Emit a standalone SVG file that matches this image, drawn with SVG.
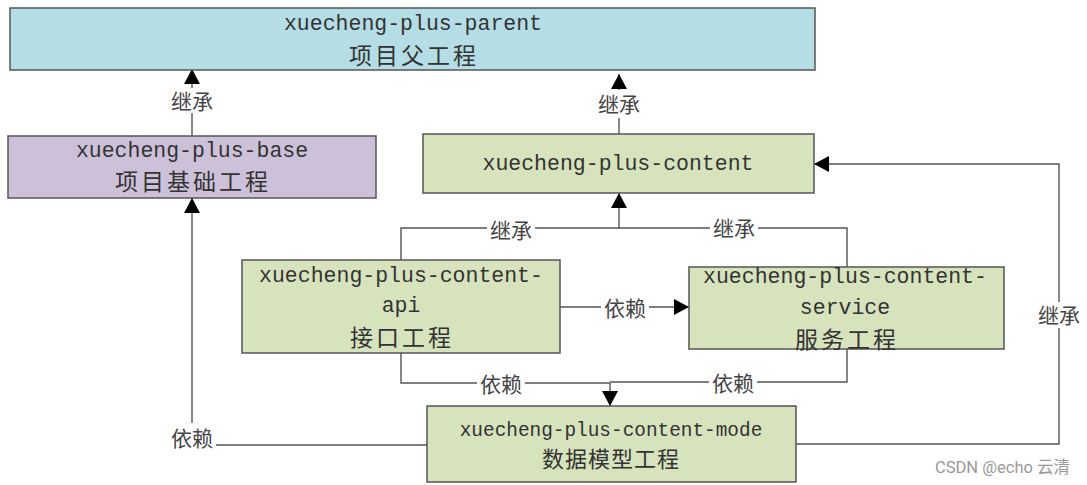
<svg xmlns="http://www.w3.org/2000/svg" width="1087" height="485" viewBox="0 0 1087 485">
<style>
.box{stroke:#555;stroke-width:1.5}
.blue{fill:#b5dde6}
.purple{fill:#cdc1da}
.green{fill:#d7e3bd}
.lat{font-family:"Liberation Mono","DejaVu Sans Mono",monospace;font-size:21.5px;fill:#333;text-anchor:middle;dominant-baseline:central}
.lat2{font-family:"Liberation Mono","DejaVu Sans Mono",monospace;font-size:19.4px;fill:#333;text-anchor:middle;dominant-baseline:central}
.cn{font-family:"Noto Sans CJK SC",sans-serif;font-size:23px;letter-spacing:3px;fill:#333;text-anchor:middle;dominant-baseline:central}
.cn2{font-family:"Noto Sans CJK SC",sans-serif;font-size:22px;letter-spacing:1px;fill:#333;text-anchor:middle;dominant-baseline:central}
.conn{fill:none;stroke:#555;stroke-width:1.4}
.lbl{font-family:"Noto Sans CJK SC",sans-serif;font-size:21px;fill:#444;text-anchor:middle;dominant-baseline:central}
.bg{fill:#fff}
.wm{font-family:"Roboto","Noto Sans","Noto Sans CJK SC",sans-serif;font-size:16.5px;fill:#999}
</style>
<defs>
<marker id="arr" markerUnits="userSpaceOnUse" markerWidth="16" markerHeight="16" refX="15" refY="8" orient="auto">
<path d="M0,0 L15,8 L0,16 z" fill="#000"/>
</marker>
</defs>
<rect width="1087" height="485" fill="#fff"/>
<g id="connectors">
<path class="conn" d="M192,136 V69" marker-end="url(#arr)"/>
<path class="conn" d="M619,134 V74" marker-end="url(#arr)"/>
<path class="conn" d="M401,260 V228 H619 V193" marker-end="url(#arr)"/>
<path class="conn" d="M847,267 V228 H619"/>
<path class="conn" d="M560,307 H689" marker-end="url(#arr)"/>
<path class="conn" d="M401,353 V383 H610 V406" marker-end="url(#arr)"/>
<path class="conn" d="M847,349 V382 H610"/>
<path class="conn" d="M427,445 H192 V198" marker-end="url(#arr)"/>
<path class="conn" d="M796,444 H1059 V164 H814" marker-end="url(#arr)"/>
<g><rect class="bg" x="168" y="88" width="48" height="25"/><text class="lbl" x="192" y="100">继承</text></g>
<g><rect class="bg" x="595" y="90" width="48" height="28"/><text class="lbl" x="619" y="103">继承</text></g>
<g><rect class="bg" x="487" y="218" width="48" height="22"/><text class="lbl" x="511" y="229">继承</text></g>
<g><rect class="bg" x="710" y="216" width="48" height="22"/><text class="lbl" x="734" y="227">继承</text></g>
<g><rect class="bg" x="601" y="296" width="48" height="22"/><text class="lbl" x="625" y="307">依赖</text></g>
<g><rect class="bg" x="477" y="372" width="48" height="22"/><text class="lbl" x="501" y="383">依赖</text></g>
<g><rect class="bg" x="709" y="371" width="48" height="22"/><text class="lbl" x="733" y="382">依赖</text></g>
<g><rect class="bg" x="168" y="423" width="48" height="28"/><text class="lbl" x="192" y="437">依赖</text></g>
<g><rect class="bg" x="1035" y="302" width="48" height="26"/><text class="lbl" x="1059" y="314">继承</text></g>
</g>
<g id="parent">
<rect class="box blue" x="10" y="8" width="805" height="62"/>
<text class="lat" x="413" y="24">xuecheng-plus-parent</text>
<text class="cn" x="414" y="54">项目父工程</text>
</g>
<g id="base">
<rect class="box purple" x="8" y="136" width="368" height="62"/>
<text class="lat" x="192" y="151">xuecheng-plus-base</text>
<text class="cn" x="193" y="180">项目基础工程</text>
</g>
<g id="content">
<rect class="box green" x="423" y="134" width="391" height="59"/>
<text class="lat" x="618" y="164">xuecheng-plus-content</text>
</g>
<g id="api">
<rect class="box green" x="242" y="260" width="318" height="93"/>
<text class="lat" x="401" y="276">xuecheng-plus-content-</text>
<text class="lat" x="401" y="306">api</text>
<text class="cn" x="402" y="336">接口工程</text>
</g>
<g id="service">
<rect class="box green" x="689" y="267" width="315" height="82"/>
<text class="lat" x="845" y="277">xuecheng-plus-content-</text>
<text class="lat" x="845" y="308">service</text>
<text class="cn" x="847" y="338">服务工程</text>
</g>
<g id="mode">
<rect class="box green" x="427" y="406" width="369" height="76"/>
<text class="lat2" x="611" y="431">xuecheng-plus-content-mode</text>
<text class="cn2" x="611" y="457">数据模型工程</text>
</g>
<text class="wm" x="935" y="473">CSDN @echo 云清</text>
</svg>
